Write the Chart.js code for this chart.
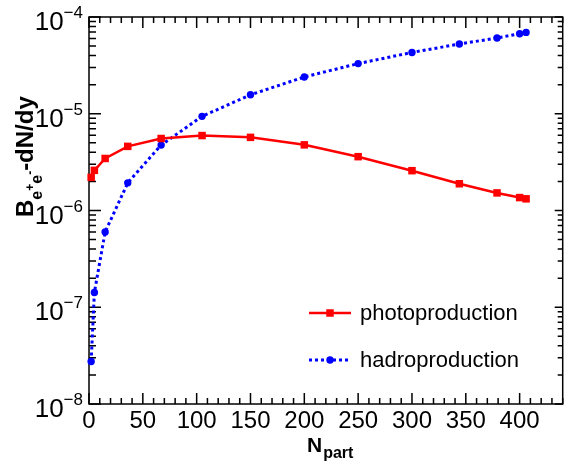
<!DOCTYPE html>
<html>
<head>
<meta charset="utf-8">
<script src="https://cdn.jsdelivr.net/npm/chart.js@4.4.1/dist/chart.umd.min.js"></script>
<style>
body { margin: 0; background: #fff; }
</style>
</head>
<body>
<canvas id="myChart" width="568" height="464"></canvas>
<script>
// values
const nPart = [2, 5, 15, 36, 67, 105, 150, 200, 250, 300, 344, 379, 400, 406];
const photoValues = [2.2e-6, 2.6e-6, 3.45e-6, 4.6e-6, 5.55e-6, 5.95e-6, 5.7e-6, 4.77e-6, 3.6e-6, 2.58e-6, 1.89e-6, 1.52e-6, 1.36e-6, 1.32e-6];
const hadroValues = [2.75e-8, 1.42e-7, 6.0e-7, 1.93e-6, 4.74e-6, 9.4e-6, 1.57e-5, 2.4e-5, 3.3e-5, 4.3e-5, 5.26e-5, 6.07e-5, 6.72e-5, 6.93e-5];
const seriesNames = ["photoproduction", "hadroproduction"];
const xTickLabels = [0, 50, 100, 150, 200, 250, 300, 350, 400];
const yTickExponents = [-8, -7, -6, -5, -4];

const FONT = '"Liberation Sans", Arial, Helvetica, sans-serif';

document.addEventListener('DOMContentLoaded', init, false);

function init(){
    createChart();
}

function toPoints(xs, ys){
    return xs.map((x, i) => ({x: x, y: ys[i]}));
}

// frame + inward ticks like the original
const framePlugin = {
    id: 'frame',
    beforeDatasetsDraw(chart){
        const ctx = chart.ctx;
        const a = chart.chartArea;
        const xs = chart.scales.x;
        const ys = chart.scales.y;
        ctx.save();
        ctx.strokeStyle = '#000';
        ctx.lineWidth = 1.5;
        ctx.strokeRect(a.left, a.top, a.right - a.left, a.bottom - a.top);
        ctx.beginPath();
        for (let v = 0; v <= xs.max; v += 10) {
            const px = xs.getPixelForValue(v);
            const len = v % 50 === 0 ? 11 : 6;
            ctx.moveTo(px, a.bottom); ctx.lineTo(px, a.bottom - len);
            ctx.moveTo(px, a.top); ctx.lineTo(px, a.top + len);
        }
        for (const e of yTickExponents) {
            for (let m = 1; m <= 9; m++) {
                if (e === yTickExponents[yTickExponents.length - 1] && m > 1) break;
                const py = ys.getPixelForValue(m * Math.pow(10, e));
                const major = m === 1;
                ctx.moveTo(a.left, py); ctx.lineTo(a.left + (major ? 12 : 7), py);
                ctx.moveTo(a.right, py); ctx.lineTo(a.right - (major ? 8 : 5), py);
            }
        }
        ctx.stroke();
        ctx.restore();
    }
};

const labelPlugin = {
    id: 'labels',
    afterDraw(chart){
        const ctx = chart.ctx;
        const a = chart.chartArea;
        const xs = chart.scales.x;
        const ys = chart.scales.y;
        ctx.save();
        ctx.fillStyle = '#000';

        // x tick labels
        ctx.font = '24px ' + FONT;
        ctx.textAlign = 'center';
        ctx.textBaseline = 'alphabetic';
        xTickLabels.forEach(v => ctx.fillText(String(v), xs.getPixelForValue(v), a.bottom + 24));

        // y tick labels 10^n
        yTickExponents.forEach(e => {
            const py = ys.getPixelForValue(Math.pow(10, e));
            const expText = '\u2212' + Math.abs(e);
            ctx.textAlign = 'right';
            ctx.font = '17px ' + FONT;
            ctx.fillText(expText, 83, py + 1);
            const w = ctx.measureText(expText).width;
            ctx.font = '26px ' + FONT;
            ctx.fillText('10', 83 - w, py + 13);
        });

        // x title N_part
        ctx.textAlign = 'left';
        ctx.font = 'bold 21px ' + FONT;
        ctx.fillText('N', 307, 452);
        const nw = ctx.measureText('N').width;
        ctx.font = 'bold 16px ' + FONT;
        ctx.fillText('part', 307 + nw + 1, 458);

        // y title B_{e+e-}-dN/dy, rotated
        ctx.translate(33, 217);
        ctx.rotate(-Math.PI / 2);
        let x = 0;
        const pieces = [
            ['B', 'bold 24px', 0],
            ['e', 'bold 16px', 9],
            ['+', 'bold 12px', 1],
            ['e', 'bold 16px', 9],
            ['-', 'bold 12px', 1],
            ['-dN/dy', 'bold 24px', 0]
        ];
        pieces.forEach(p => {
            ctx.font = p[1] + ' ' + FONT;
            ctx.fillText(p[0], x, p[2]);
            x += ctx.measureText(p[0]).width;
        });
        ctx.restore();

        drawLegend(chart);
    }
};

function drawLegend(chart){
    const ctx = chart.ctx;
    const rows = [313, 360];
    ctx.save();
    chart.data.datasets.forEach((ds, i) => {
        const y = rows[i];
        ctx.strokeStyle = ds.borderColor;
        ctx.lineWidth = ds.borderWidth;
        ctx.setLineDash(ds.borderDash || []);
        ctx.beginPath();
        ctx.moveTo(309, y);
        ctx.lineTo(351, y);
        ctx.stroke();
        ctx.setLineDash([]);
        ctx.fillStyle = ds.pointBackgroundColor;
        if (ds.pointStyle === 'rect') {
            const s = ds.pointRadius * Math.SQRT1_2;
            ctx.fillRect(330 - s, y - s, 2 * s, 2 * s);
        } else {
            ctx.beginPath();
            ctx.arc(330, y, ds.pointRadius, 0, Math.PI * 2);
            ctx.fill();
        }
        ctx.fillStyle = '#000';
        ctx.font = '22px ' + FONT;
        ctx.textAlign = 'left';
        ctx.textBaseline = 'middle';
        ctx.fillText(ds.label, 360, y + 1);
    });
    ctx.restore();
}

function createChart(){
    const ctx = document.getElementById("myChart");
    const data = {
        datasets: [{
            label: seriesNames[0],
            data: toPoints(nPart, photoValues),
            borderColor: '#ff0000',
            backgroundColor: '#ff0000',
            pointBackgroundColor: '#ff0000',
            pointBorderWidth: 0,
            borderWidth: 2.5,
            pointStyle: 'rect',
            pointRadius: 5.3,
            clip: false
        }, {
            label: seriesNames[1],
            data: toPoints(nPart, hadroValues),
            borderColor: '#0000ff',
            backgroundColor: '#0000ff',
            pointBackgroundColor: '#0000ff',
            pointBorderWidth: 0,
            borderWidth: 3,
            borderDash: [3, 3],
            pointStyle: 'circle',
            pointRadius: 3.7,
            clip: false
        }]
    };
    const config = {
        type: 'line',
        data: data,
        options: {
            responsive: false,
            animation: false,
            layout: { padding: { left: 89, top: 17, right: 1, bottom: 60 } },
            scales: {
                x: { type: 'linear', min: 0, max: 440, display: false },
                y: { type: 'logarithmic', min: 1e-8, max: 1e-4, display: false }
            },
            plugins: {
                legend: { display: false },
                tooltip: { enabled: false }
            }
        },
        plugins: [framePlugin, labelPlugin]
    };
    new Chart(ctx, config);
}
</script>
</body>
</html>
